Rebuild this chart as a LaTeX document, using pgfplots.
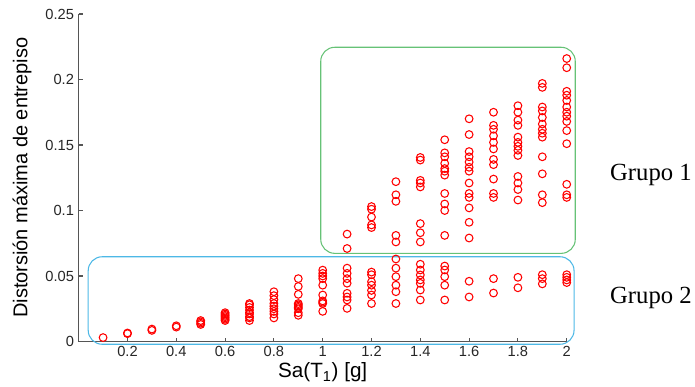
\documentclass[border=0pt]{standalone}
\usepackage{pgfplots}
\pgfplotsset{compat=1.18}
\usepackage{fontspec}
\setmainfont{Liberation Sans}
\newfontfamily\timesfont{Liberation Serif}
\definecolor{axisgray}{RGB}{85,85,85}
\definecolor{grpgreen}{RGB}{102,194,118}
\definecolor{grpblue}{RGB}{77,184,230}
\begin{document}
\begin{tikzpicture}
\begin{axis}[
  at={(0,0)}, anchor=south west,
  scale only axis, width=366pt, height=245.6pt,
  xmin=0, xmax=2, ymin=0, ymax=0.25,
  axis x line=bottom, axis y line=left,
  axis line style={-, draw=axisgray, line width=0.8pt},
  tick align=inside, major tick length=3pt,
  tick style={draw=axisgray, line width=0.8pt},
  xtick={0.2,0.4,0.6,0.8,1,1.2,1.4,1.6,1.8,2},
  xticklabels={0.2,0.4,0.6,0.8,1,1.2,1.4,1.6,1.8,2},
  ytick={0,0.05,0.1,0.15,0.2,0.25},
  yticklabels={0,0.05,0.1,0.15,0.2,0.25},
  /pgf/number format/assume math mode=true,
  ticklabel style={font=\fontsize{11}{13}\selectfont, text=black!85},
  xlabel={Sa(T\textsubscript{1}) [g]},
  ylabel={Distorsión máxima de entrepiso},
  xlabel style={at={(axis description cs:0.5,-0.095)}, anchor=center, font=\fontsize{15.5}{18}\selectfont},
  ylabel style={at={(axis description cs:-0.116,0.5)}, anchor=center, font=\fontsize{15}{18}\selectfont},
  clip=false,
]
\draw[grpgreen, line width=0.8pt, rounded corners=10.5pt] (axis cs:0.992,0.0673) rectangle (axis cs:2.035,0.2246);
\draw[grpblue, line width=0.8pt, rounded corners=10.5pt] (axis cs:0.039,-0.0021) rectangle (axis cs:2.03,0.0647);
\addplot[only marks, mark=o, draw=red, mark size=2.9pt, mark options={line width=0.8pt}] table {
x y
0.1 0.003
0.2 0.006
0.2 0.0065
0.3 0.0085
0.3 0.0095
0.4 0.011
0.4 0.012
0.5 0.013
0.5 0.014
0.5 0.015
0.5 0.016
0.6 0.016
0.6 0.017
0.6 0.018
0.6 0.019
0.6 0.020
0.6 0.021
0.6 0.022
0.7 0.016
0.7 0.018
0.7 0.019
0.7 0.021
0.7 0.022
0.7 0.024
0.7 0.026
0.7 0.028
0.7 0.029
0.8 0.018
0.8 0.021
0.8 0.023
0.8 0.025
0.8 0.027
0.8 0.029
0.8 0.032
0.8 0.035
0.8 0.038
0.9 0.020
0.9 0.022
0.9 0.025
0.9 0.026
0.9 0.027
0.9 0.028
0.9 0.029
0.9 0.036
0.9 0.042
0.9 0.048
1.0 0.023
1.0 0.029
1.0 0.030
1.0 0.031
1.0 0.0355
1.0 0.043
1.0 0.048
1.0 0.050
1.0 0.052
1.0 0.0545
1.1 0.0253
1.1 0.0317
1.1 0.034
1.1 0.0368
1.1 0.0445
1.1 0.048
1.1 0.052
1.1 0.056
1.1 0.071
1.1 0.082
1.2 0.029
1.2 0.0355
1.2 0.039
1.2 0.043
1.2 0.0456
1.2 0.051
1.2 0.053
1.2 0.087
1.2 0.089
1.2 0.095
1.2 0.101
1.2 0.103
1.3 0.029
1.3 0.038
1.3 0.043
1.3 0.0495
1.3 0.056
1.3 0.063
1.3 0.076
1.3 0.081
1.3 0.107
1.3 0.112
1.3 0.122
1.4 0.0317
1.4 0.0393
1.4 0.0444
1.4 0.047
1.4 0.0508
1.4 0.0546
1.4 0.059
1.4 0.076
1.4 0.083
1.4 0.090
1.4 0.118
1.4 0.121
1.4 0.123
1.4 0.1385
1.4 0.1405
1.5 0.0317
1.5 0.043
1.5 0.0495
1.5 0.0546
1.5 0.0576
1.5 0.081
1.5 0.100
1.5 0.105
1.5 0.113
1.5 0.127
1.5 0.130
1.5 0.132
1.5 0.136
1.5 0.141
1.5 0.144
1.5 0.154
1.6 0.034
1.6 0.046
1.6 0.079
1.6 0.091
1.6 0.102
1.6 0.110
1.6 0.113
1.6 0.121
1.6 0.130
1.6 0.133
1.6 0.137
1.6 0.141
1.6 0.145
1.6 0.158
1.6 0.170
1.7 0.037
1.7 0.048
1.7 0.110
1.7 0.113
1.7 0.124
1.7 0.135
1.7 0.139
1.7 0.147
1.7 0.152
1.7 0.157
1.7 0.162
1.7 0.165
1.7 0.175
1.8 0.041
1.8 0.049
1.8 0.108
1.8 0.116
1.8 0.121
1.8 0.126
1.8 0.142
1.8 0.146
1.8 0.149
1.8 0.152
1.8 0.156
1.8 0.165
1.8 0.169
1.8 0.175
1.8 0.180
1.9 0.044
1.9 0.048
1.9 0.051
1.9 0.106
1.9 0.112
1.9 0.128
1.9 0.141
1.9 0.156
1.9 0.159
1.9 0.162
1.9 0.166
1.9 0.171
1.9 0.176
1.9 0.179
1.9 0.194
1.9 0.197
2.0 0.045
2.0 0.047
2.0 0.049
2.0 0.051
2.0 0.110
2.0 0.112
2.0 0.120
2.0 0.151
2.0 0.161
2.0 0.168
2.0 0.172
2.0 0.175
2.0 0.179
2.0 0.184
2.0 0.188
2.0 0.191
2.0 0.209
2.0 0.216
};
\node[anchor=west, inner sep=0pt, font=\timesfont\fontsize{18.5}{22}\selectfont] at (axis cs:2.177,0.127) {Grupo 1};
\node[anchor=west, inner sep=0pt, font=\timesfont\fontsize{18.5}{22}\selectfont] at (axis cs:2.177,0.0332) {Grupo 2};
\end{axis}
\pgfresetboundingbox
\path (-59pt,-34.1pt) rectangle (462.2pt,256.1pt);
\end{tikzpicture}
\end{document}
